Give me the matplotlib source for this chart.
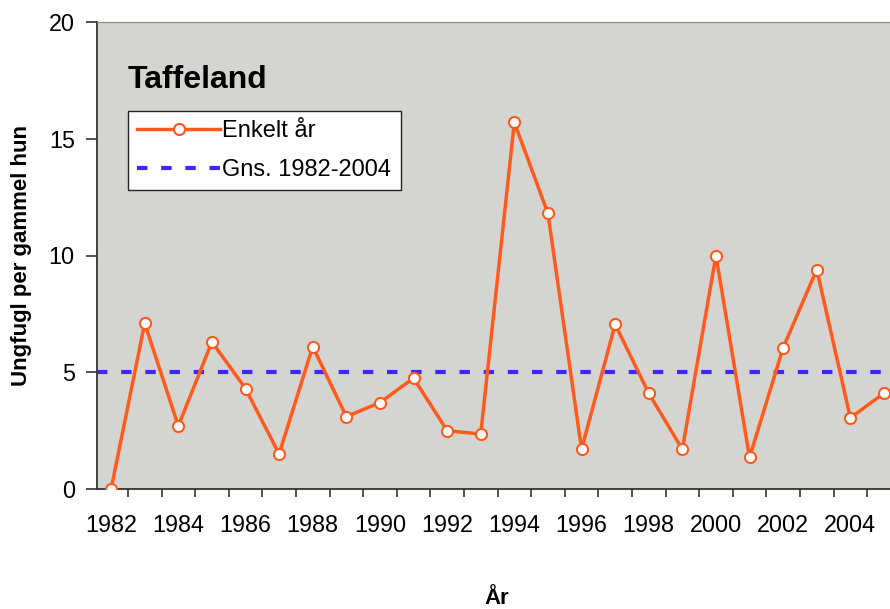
import matplotlib
matplotlib.use("Agg")
import matplotlib.pyplot as plt
import numpy as np

years = list(range(1982, 2006))
values = [0.0, 7.1, 2.7, 6.3, 4.3, 1.5, 6.1, 3.1, 3.7, 4.75, 2.5, 2.35,
          15.7, 11.8, 1.7, 7.05, 4.1, 1.7, 10.0, 1.35, 6.05, 9.4, 3.05, 4.1]
mean_value = 5.0
tick_years = list(range(1982, 2006, 2))

plt.rcParams['font.family'] = ['Liberation Sans', 'DejaVu Sans']

fig = plt.figure(figsize=(8.9, 6.09), dpi=100)
ax = fig.add_axes([97/890, 1-489/609, 1-97/890, (489-22)/609])
ax.set_facecolor('#d4d5d0')

ax.plot(years, values, color='#ff5a1e', lw=2.5, marker='o', ms=8,
        mfc='white', mec='#ff5a1e', mew=1.5, label='Enkelt år', zorder=3)
ax.axhline(mean_value, color='#3c28ff', lw=3, ls=(0, (2.5, 3.3)),
           label='Gns. 1982-2004', zorder=2)

ax.set_xlim(1981.58, 2005.18)
ax.set_ylim(0, 20)
ax.set_yticks([0, 5, 10, 15, 20])
ax.set_xticks(tick_years)
ax.set_xticks(np.arange(1982.5, 2005.2, 1.0), minor=True)
ax.tick_params(axis='x', which='major', length=0, labelsize=16.8, pad=18)
ax.tick_params(axis='x', which='minor', length=6, width=1.2, color='#333333', direction='out')
ax.tick_params(axis='y', length=8, width=1.2, color='#333333', labelsize=16.8, pad=8)

for s in ['left', 'bottom']:
    ax.spines[s].set_color('#333333')
    ax.spines[s].set_linewidth(1.3)
ax.spines['top'].set_color('#888888')
ax.spines['right'].set_visible(False)

ax.set_ylabel('Ungfugl per gammel hun', fontsize=16, fontweight='bold', labelpad=12)
fig.text(497/890, 1-599/609, 'År', fontsize=16, fontweight='bold', ha='center', va='center')

ax.text(128/890, 1-80/609, 'Taffeland', transform=fig.transFigure, fontsize=23,
        fontweight='bold', ha='left', va='center')

leg = ax.legend(loc='upper left', bbox_to_anchor=((128-97)/793, (489-111)/467),
                frameon=True, fancybox=False, fontsize=17, handlelength=3.5,
                borderpad=0.4, labelspacing=0.7, handletextpad=0.1,
                borderaxespad=0)
leg.get_frame().set_edgecolor('#222222')
leg.get_frame().set_linewidth(1.0)
leg.get_frame().set_facecolor('white')
leg.get_frame().set_alpha(1)

fig.savefig('out.png', dpi=100)
